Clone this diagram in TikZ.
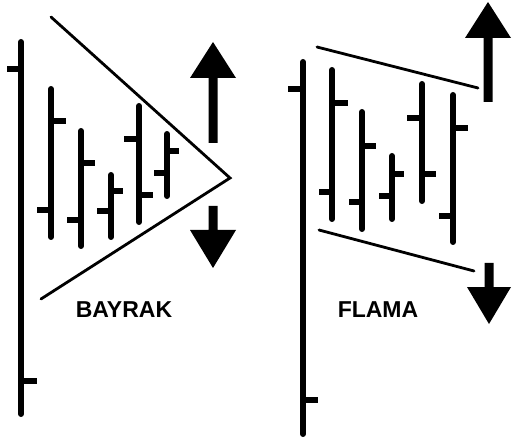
\documentclass[tikz,border=0pt]{standalone}
\usepackage{fontspec}
\setmainfont{Liberation Sans}
\begin{document}
\begin{tikzpicture}[x=1pt,y=-1pt,
  barline/.style={line width=6pt,line cap=round},
  tickline/.style={line width=6pt},
  trendline/.style={line width=2.8pt,line cap=round},
  label/.style={font=\fontsize{23}{23}\selectfont\bfseries,inner sep=0pt}]
\useasboundingbox (0,0) rectangle (512,441);
% ---------- left panel: BAYRAK ----------
% bars: x, top, bottom, left tick y, left tick from x, right tick y, right tick to x
\foreach \x/\t/\b/\ly/\lx/\ry/\rx in {
  21/42/414/69/7/381/37,
  51/89/237/210/37/121/66,
  81/131/246/220/67/163/95,
  111/175/237/211/97/191/123,
  139/106/222/139/124/195/153,
  167/134/196/173/154/151/179}{
  \draw[barline] (\x,\t) -- (\x,\b);
  \draw[tickline] (\lx,\ly) -- (\x,\ly);
  \draw[tickline] (\x,\ry) -- (\rx,\ry);
}
\coordinate (apex) at (230,178);
\coordinate (tl) at (51,17);
\coordinate (bl) at (41,299);
\draw[trendline] (tl) -- (apex) -- (bl);
% arrows
\fill (213,42) -- (236,78) -- (217.5,78) -- (217.5,143) -- (208.5,143) -- (208.5,78) -- (190,78) -- cycle;
\fill (213,268) -- (236,230) -- (217.5,230) -- (217.5,206) -- (208.5,206) -- (208.5,230) -- (190,230) -- cycle;
\node[label] (bayrak) at (124,310) {BAYRAK};
% ---------- right panel: FLAMA ----------
\foreach \x/\t/\b/\ly/\lx/\ry/\rx in {
  303/62/434/89/288/400/318,
  332/70/219/192/319/103/348,
  362/112/229/202/349/146/376,
  392/156/219/196/379/174/404,
  422/84/201/118/407/174/436,
  453/95/242/216/439/128/468}{
  \draw[barline] (\x,\t) -- (\x,\b);
  \draw[tickline] (\lx,\ly) -- (\x,\ly);
  \draw[tickline] (\x,\ry) -- (\rx,\ry);
}
\coordinate (fu1) at (317,47);
\coordinate (fu2) at (478,88);
\coordinate (fl1) at (319,230);
\coordinate (fl2) at (474,271);
\draw[trendline] (fu1) -- (fu2);
\draw[trendline] (fl1) -- (fl2);
\fill (488,2) -- (511,38) -- (492.5,38) -- (492.5,102) -- (483.5,102) -- (483.5,38) -- (465,38) -- cycle;
\fill (489,324) -- (511,287) -- (493.5,287) -- (493.5,263) -- (484.5,263) -- (484.5,287) -- (467,287) -- cycle;
\node[label] (flama) at (378,310) {FLAMA};
\end{tikzpicture}
\end{document}
